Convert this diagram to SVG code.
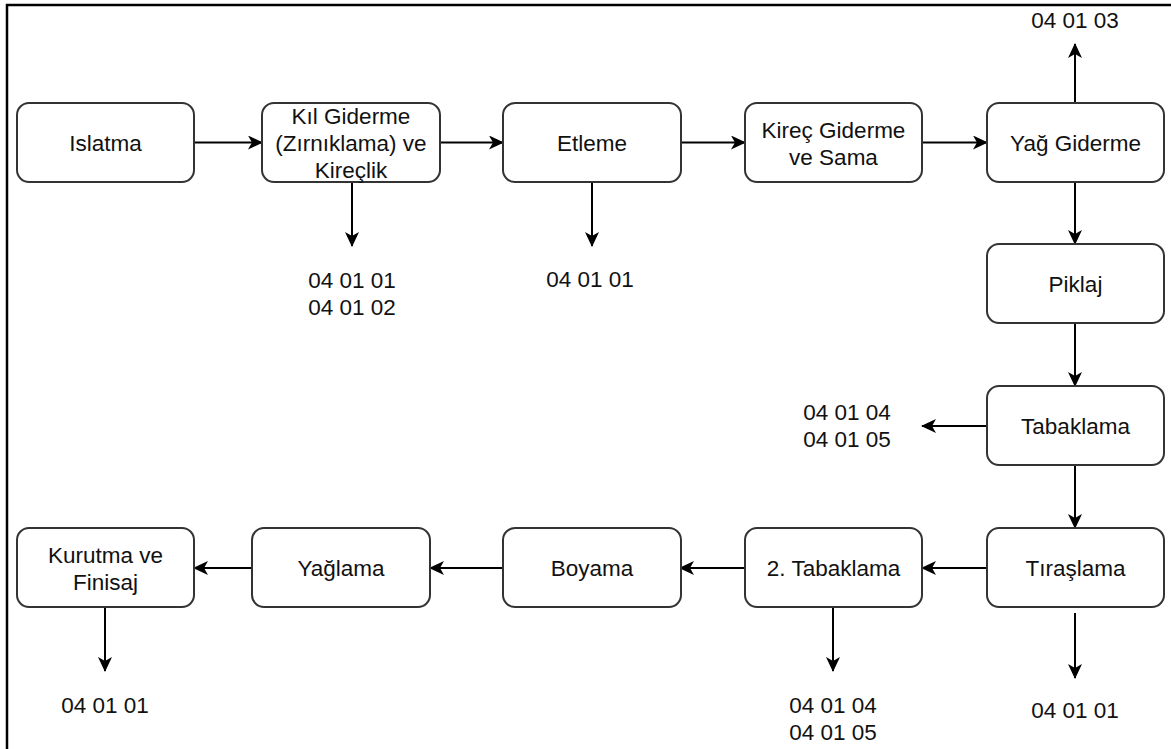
<svg xmlns="http://www.w3.org/2000/svg" width="1171" height="749" viewBox="0 0 1171 749">
<style>
.box{fill:#fff;stroke:#333;stroke-width:2}
.lbl{font-family:"Liberation Sans",Arial,sans-serif;font-size:22.5px;fill:#111;text-anchor:middle}
.con{stroke:#000;stroke-width:2;fill:none;marker-end:url(#arr)}
</style>
<defs>
<marker id="arr" markerWidth="15" markerHeight="14" refX="14" refY="7" orient="auto" markerUnits="userSpaceOnUse">
<path d="M0,0 L15,7 L0,14 L4,7 Z" fill="#000"/>
</marker>
</defs>
<rect width="1171" height="749" fill="#fff"/>
<path d="M7,749 V5 H1171" fill="none" stroke="#000" stroke-width="2.5"/>
<g id="connectors">
<line class="con" x1="194" y1="142.5" x2="262" y2="142.5"/>
<line class="con" x1="440" y1="142.5" x2="503" y2="142.5"/>
<line class="con" x1="681" y1="142.5" x2="745" y2="142.5"/>
<line class="con" x1="922" y1="142.5" x2="987" y2="142.5"/>
<line class="con" x1="1075" y1="103" x2="1075" y2="44"/>
<line class="con" x1="1075" y1="182" x2="1075" y2="244"/>
<line class="con" x1="1075" y1="323" x2="1075" y2="386"/>
<line class="con" x1="987" y1="426" x2="922" y2="426"/>
<line class="con" x1="1075" y1="465" x2="1075" y2="528"/>
<line class="con" x1="987" y1="568" x2="922" y2="568"/>
<line class="con" x1="745" y1="568" x2="680" y2="568"/>
<line class="con" x1="503" y1="568" x2="430" y2="568"/>
<line class="con" x1="252" y1="568" x2="194" y2="568"/>
<line class="con" x1="352" y1="182" x2="352" y2="246"/>
<line class="con" x1="592" y1="182" x2="592" y2="246"/>
<line class="con" x1="1075" y1="613" x2="1075" y2="678"/>
<line class="con" x1="833" y1="607" x2="833" y2="671"/>
<line class="con" x1="105" y1="607" x2="105" y2="671"/>
</g>
<g id="n1"><rect class="box" x="17" y="103" width="177" height="79" rx="12"/><text class="lbl" x="105.5" y="150.5">Islatma</text></g>
<g id="n2"><rect class="box" x="262" y="103" width="178" height="79" rx="12"/><text class="lbl" x="351" y="124">Kıl Giderme</text><text class="lbl" x="351" y="151">(Zırnıklama) ve</text><text class="lbl" x="351" y="178">Kireçlik</text></g>
<g id="n3"><rect class="box" x="503" y="103" width="178" height="79" rx="12"/><text class="lbl" x="592" y="150.5">Etleme</text></g>
<g id="n4"><rect class="box" x="745" y="103" width="177" height="79" rx="12"/><text class="lbl" x="833.5" y="138">Kireç Giderme</text><text class="lbl" x="833.5" y="165">ve Sama</text></g>
<g id="n5"><rect class="box" x="987" y="103" width="177" height="79" rx="12"/><text class="lbl" x="1075.5" y="150.5">Yağ Giderme</text></g>
<g id="n6"><rect class="box" x="987" y="244" width="177" height="79" rx="12"/><text class="lbl" x="1075.5" y="291.5">Piklaj</text></g>
<g id="n7"><rect class="box" x="987" y="386" width="177" height="79" rx="12"/><text class="lbl" x="1075.5" y="433.5">Tabaklama</text></g>
<g id="n8"><rect class="box" x="987" y="528" width="177" height="79" rx="12"/><text class="lbl" x="1075.5" y="575.5">Tıraşlama</text></g>
<g id="n9"><rect class="box" x="745" y="528" width="177" height="79" rx="12"/><text class="lbl" x="833.5" y="575.5">2. Tabaklama</text></g>
<g id="n10"><rect class="box" x="503" y="528" width="178" height="79" rx="12"/><text class="lbl" x="592" y="575.5">Boyama</text></g>
<g id="n11"><rect class="box" x="252" y="528" width="178" height="79" rx="12"/><text class="lbl" x="341" y="575.5">Yağlama</text></g>
<g id="n12"><rect class="box" x="17" y="528" width="177" height="79" rx="12"/><text class="lbl" x="105.5" y="563">Kurutma ve</text><text class="lbl" x="105.5" y="590">Finisaj</text></g>
<g id="c1"><text class="lbl" x="1075" y="28">04 01 03</text></g>
<g id="c2"><text class="lbl" x="352" y="288">04 01 01</text><text class="lbl" x="352" y="315">04 01 02</text></g>
<g id="c3"><text class="lbl" x="590" y="287">04 01 01</text></g>
<g id="c4"><text class="lbl" x="847" y="420">04 01 04</text><text class="lbl" x="847" y="447">04 01 05</text></g>
<g id="c5"><text class="lbl" x="1075" y="718">04 01 01</text></g>
<g id="c6"><text class="lbl" x="833" y="713">04 01 04</text><text class="lbl" x="833" y="740">04 01 05</text></g>
<g id="c7"><text class="lbl" x="105" y="713">04 01 01</text></g>
</svg>
